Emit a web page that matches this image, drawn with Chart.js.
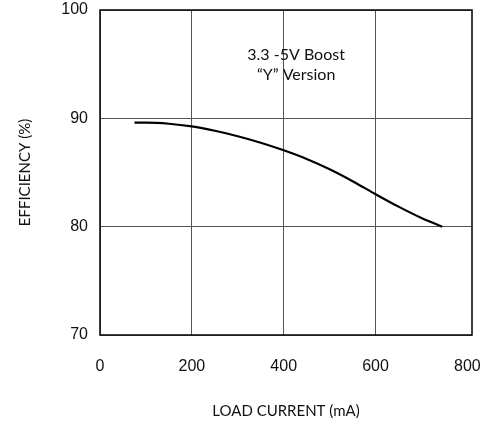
<!DOCTYPE html>
<html>
<head>
<meta charset="utf-8">
<script src="https://cdn.jsdelivr.net/npm/chart.js@4.4.0/dist/chart.umd.min.js"></script>
<style>
html,body{margin:0;padding:0;background:#fff;}
#wrap{width:480px;height:421px;}
</style>
</head>
<body>
<div id="wrap"><canvas id="c" width="480" height="421"></canvas></div>
<script>
const loadCurrent = [75, 100, 150, 200, 250, 300, 350, 400, 450, 500, 550, 600, 650, 700, 745];
const efficiency  = [89.6, 89.6, 89.5, 89.25, 88.85, 88.35, 87.75, 87.05, 86.25, 85.3, 84.2, 83.0, 81.85, 80.8, 80.0];
const xTicks = [0, 200, 400, 600, 800];
const yTicks = [70, 80, 90, 100];
const annotation = ['3.3 -5V Boost', '\u201CY\u201D Version'];
const xTitle = 'LOAD CURRENT (mA)';
const yTitle = 'EFFICIENCY (%)';

const points = loadCurrent.map((x, i) => ({x: x, y: efficiency[i]}));

const framePlugin = {
  id: 'frame',
  afterDatasetsDraw(chart) {
    const {ctx, chartArea: a} = chart;
    ctx.save();
    ctx.strokeStyle = '#111';
    ctx.lineWidth = 1.6;
    ctx.strokeRect(a.left, a.top, a.right - a.left, a.bottom - a.top);
    ctx.restore();
  }
};

const notePlugin = {
  id: 'note',
  afterDatasetsDraw(chart) {
    const {ctx, scales} = chart;
    const cx = scales.x.getPixelForValue(427);
    const y1 = scales.y.getPixelForValue(95.9);
    ctx.save();
    ctx.fillStyle = '#111';
    ctx.font = '16px Lato, "Open Sans", sans-serif';
    ctx.textAlign = 'center';
    ctx.textBaseline = 'middle';
    annotation.forEach((t, i) => ctx.fillText(t, cx, y1 + i * 20));
    ctx.restore();
  }
};

new Chart(document.getElementById('c'), {
  type: 'scatter',
  data: {
    datasets: [{
      data: points,
      showLine: true,
      borderColor: '#000',
      borderWidth: 2.2,
      pointRadius: 0,
      tension: 0.4,
      cubicInterpolationMode: 'monotone',
      fill: false
    }]
  },
  options: {
    responsive: false,
    animation: false,
    devicePixelRatio: 1,
    layout: {padding: {top: 10, right: 8, left: 0, bottom: 0}},
    plugins: {legend: {display: false}, tooltip: {enabled: false}},
    scales: {
      x: {
        type: 'linear',
        min: 0, max: 810,
        afterBuildTicks(s) { s.ticks = xTicks.map(v => ({value: v})); },
        afterFit(s) { s.height = 86; s.paddingLeft = 0; s.paddingRight = 0; },
        border: {display: false},
        grid: {
          color: (c) => (c.tick && c.tick.value === 800) ? 'rgba(0,0,0,0)' : '#555',
          lineWidth: 1, drawTicks: false
        },
        ticks: {
          color: '#111', padding: 22,
          font: {family: '"Liberation Sans", Arial, sans-serif', size: 16}
        },
        title: {
          display: true, text: xTitle, color: '#111',
          font: {family: 'Lato, "Open Sans", sans-serif', size: 15},
          padding: {top: 0, bottom: 1}
        }
      },
      y: {
        min: 70, max: 100,
        afterBuildTicks(s) { s.ticks = yTicks.map(v => ({value: v})); },
        afterFit(s) { s.width = 100; s.paddingTop = 0; s.paddingBottom = 0; },
        border: {display: false},
        grid: {color: '#555', lineWidth: 1, drawTicks: false},
        ticks: {
          color: '#111', padding: 12,
          font: {family: '"Liberation Sans", Arial, sans-serif', size: 16}
        },
        title: {
          display: true, text: yTitle, color: '#111',
          font: {family: 'Lato, "Open Sans", sans-serif', size: 15},
          padding: {top: 16, bottom: 0}
        }
      }
    }
  },
  plugins: [framePlugin, notePlugin]
});
</script>
</body>
</html>
